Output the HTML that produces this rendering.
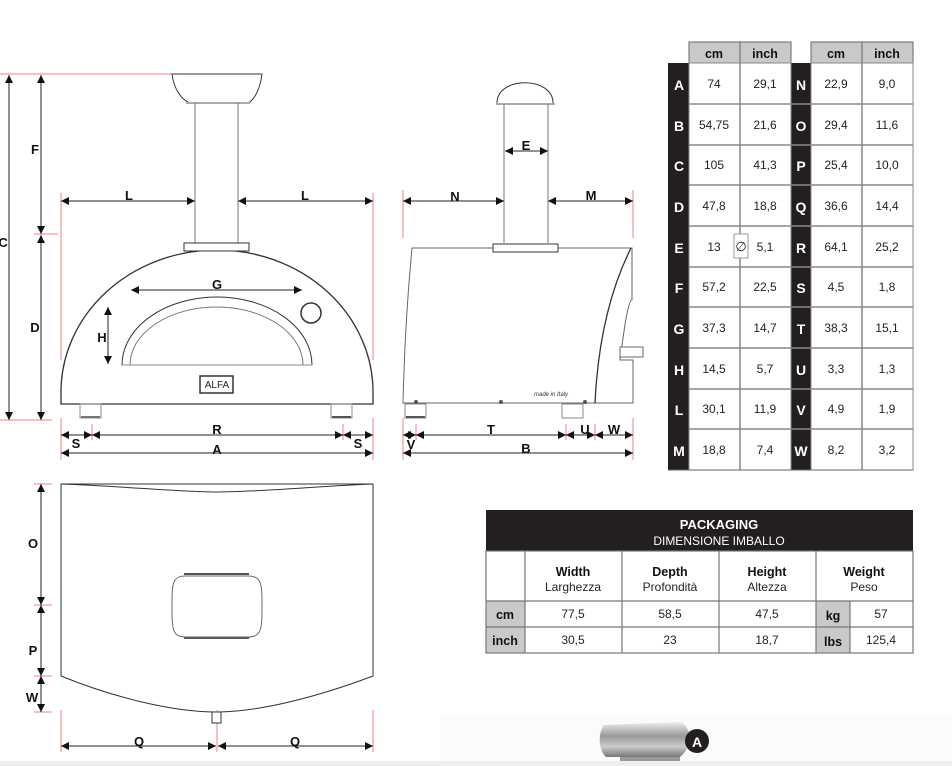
<!DOCTYPE html>
<html><head><meta charset="utf-8"><style>
html,body{margin:0;padding:0;background:#fff;}
svg{display:block;}
text{font-family:"Liberation Sans",sans-serif;}
.lb{font-weight:bold;font-size:13px;fill:#111;text-anchor:middle;}
.tv{font-size:12px;fill:#222;text-anchor:middle;}
.th{font-weight:bold;font-size:12.5px;fill:#111;text-anchor:middle;}
.tl{font-weight:bold;font-size:14px;fill:#fff;text-anchor:middle;}
</style></head><body>
<svg width="952" height="766" viewBox="0 0 952 766" xmlns="http://www.w3.org/2000/svg">
<defs>
<marker id="ar" viewBox="0 0 10 10" refX="10" refY="5" markerWidth="10" markerHeight="8" markerUnits="userSpaceOnUse" orient="auto-start-reverse"><path d="M0,0 L10,5 L0,10 Z" fill="#111"/></marker>
<linearGradient id="mg" x1="0" y1="0" x2="0" y2="1"><stop offset="0" stop-color="#eee"/><stop offset="0.4" stop-color="#999"/><stop offset="0.7" stop-color="#ccc"/><stop offset="1" stop-color="#777"/></linearGradient>
</defs>
<rect x="440" y="715" width="512" height="51" fill="#fbfbfb"/>
<rect x="0" y="761" width="952" height="5" fill="#eee"/>

<!-- FRONT VIEW -->
<g stroke="#f08080" stroke-width="1" fill="none">
<line x1="0" y1="74" x2="172" y2="74"/><line x1="0" y1="420" x2="52" y2="420"/><line x1="34" y1="234" x2="58" y2="234"/>
<line x1="61" y1="193" x2="61" y2="360"/><line x1="373" y1="193" x2="373" y2="360"/>
<line x1="61" y1="418" x2="61" y2="460"/><line x1="373" y1="418" x2="373" y2="460"/>
<line x1="92" y1="424" x2="92" y2="440"/><line x1="343" y1="424" x2="343" y2="440"/>
<line x1="130" y1="285" x2="130" y2="300"/><line x1="303" y1="285" x2="303" y2="300"/>
<line x1="100" y1="306" x2="202" y2="306"/><line x1="100" y1="365" x2="126" y2="365"/>
</g>
<g stroke="#333" fill="none" stroke-width="1">
<path d="M172,74 L262,74 C260,90 254,100 248,103 L190,103 C182,100 174,90 172,74 Z" fill="#fff"/>
<line x1="186" y1="103" x2="250" y2="103" stroke="#aaa" stroke-width="2"/>
<line x1="195" y1="103" x2="195" y2="243" stroke="#777"/><line x1="238" y1="103" x2="238" y2="243" stroke="#777"/>
<rect x="184" y="243" width="65" height="8" fill="#fff"/>
<path d="M61,404 L61,392 A156,142 0 0 1 373,392 L373,404 Z" stroke-width="1.3" fill="#fff"/>
<rect x="184" y="243" width="65" height="8" fill="#fff"/>
<path d="M122,365 A95,68 0 0 1 312,365" stroke-width="1"/>
<path d="M130,365 A86.5,58 0 0 1 303,365" stroke="#777"/>
<line x1="122" y1="365" x2="312" y2="365" stroke="#888"/>
<circle cx="311" cy="313" r="10" stroke-width="1.5"/>
<rect x="200" y="376" width="33" height="17" stroke-width="1.5"/>
<rect x="80" y="404" width="21" height="14" stroke="#888"/><rect x="331" y="404" width="21" height="14" stroke="#888"/>
<line x1="81" y1="417" x2="100" y2="417" stroke="#777" stroke-width="2"/><line x1="332" y1="417" x2="351" y2="417" stroke="#555" stroke-width="2"/>
</g>
<text x="217" y="388" font-family="Liberation Serif,serif" font-size="10" text-anchor="middle" fill="#222">ALFA</text>
<g stroke="#222" stroke-width="1" fill="none" marker-start="url(#ar)" marker-end="url(#ar)">
<line x1="9" y1="75" x2="9" y2="420"/>
<line x1="41" y1="75" x2="41" y2="234"/><line x1="41" y1="235" x2="41" y2="420"/>
<line x1="61" y1="201" x2="195" y2="201"/><line x1="238" y1="201" x2="373" y2="201"/>
<line x1="131" y1="290" x2="302" y2="290"/>
<line x1="108" y1="307" x2="108" y2="364"/>
<line x1="61" y1="435" x2="92" y2="435"/><line x1="92" y1="435" x2="343" y2="435"/><line x1="343" y1="435" x2="373" y2="435"/>
<line x1="61" y1="453" x2="373" y2="453"/>
</g>
<text class="lb" x="3" y="247">C</text>
<text class="lb" x="35" y="154">F</text><text class="lb" x="35" y="332">D</text>
<text class="lb" x="129" y="200">L</text><text class="lb" x="305" y="200">L</text>
<text class="lb" x="217" y="289">G</text><text class="lb" x="102" y="342">H</text>
<text class="lb" x="217" y="434">R</text><text class="lb" x="76" y="448">S</text><text class="lb" x="358" y="448">S</text>
<text class="lb" x="217" y="454">A</text>

<!-- SIDE VIEW -->
<g stroke="#f08080" fill="none">
<line x1="403" y1="190" x2="403" y2="238"/><line x1="633" y1="190" x2="633" y2="238"/>
<line x1="403" y1="418" x2="403" y2="460"/><line x1="633" y1="418" x2="633" y2="460"/>
<line x1="416" y1="424" x2="416" y2="440"/><line x1="566" y1="424" x2="566" y2="440"/><line x1="595" y1="424" x2="595" y2="440"/>
</g>
<g stroke="#333" fill="none" stroke-width="1">
<path d="M497,103 C497,76 553,76 553,103" />
<line x1="496" y1="104" x2="555" y2="104" stroke="#aaa" stroke-width="2"/>
<line x1="504" y1="104" x2="504" y2="243" stroke="#777"/><line x1="548" y1="104" x2="548" y2="243" stroke="#777"/>
<path d="M412,248 L631,248 M412,248 C407,300 404,360 403,403 L633,403 L633,360 L620,360 C624,330 628,300 632,300 L632,248 Z" stroke="#666"/>
<path d="M631,248 C610,290 598,340 595,403" stroke-width="1.3"/>
<rect x="493" y="244" width="65" height="8" fill="#fff"/>
<rect x="620" y="347" width="23" height="10" fill="#fff" stroke="#666"/>
<rect x="405" y="404" width="21" height="14" stroke="#888"/><rect x="562" y="404" width="21" height="14" stroke="#888"/>
<line x1="406" y1="417" x2="425" y2="417" stroke="#555" stroke-width="2"/>
</g>
<g fill="#555"><circle cx="416" cy="402" r="2"/><circle cx="501" cy="402" r="2"/><circle cx="585" cy="402" r="2"/></g>
<text x="551" y="396" font-size="6" font-style="italic" fill="#333" text-anchor="middle" font-family="Liberation Serif,serif">made in Italy</text>
<g stroke="#222" stroke-width="1" fill="none" marker-start="url(#ar)" marker-end="url(#ar)">
<line x1="505" y1="151" x2="548" y2="151"/>
<line x1="403" y1="201" x2="504" y2="201"/><line x1="548" y1="201" x2="633" y2="201"/>
<line x1="403" y1="435" x2="416" y2="435"/><line x1="416" y1="435" x2="566" y2="435"/><line x1="566" y1="435" x2="595" y2="435"/><line x1="595" y1="435" x2="633" y2="435"/>
<line x1="403" y1="453" x2="633" y2="453"/>
</g>
<text class="lb" x="526" y="150">E</text><text class="lb" x="455" y="201">N</text><text class="lb" x="591" y="200">M</text>
<text class="lb" x="411" y="449">V</text><text class="lb" x="491" y="434">T</text><text class="lb" x="585" y="434">U</text><text class="lb" x="614" y="434">W</text>
<text class="lb" x="526" y="453">B</text>

<!-- TOP VIEW -->
<g stroke="#f08080" fill="none">
<line x1="34" y1="484" x2="52" y2="484"/><line x1="34" y1="605" x2="52" y2="605"/><line x1="34" y1="676" x2="52" y2="676"/><line x1="34" y1="712" x2="52" y2="712"/>
<line x1="61" y1="710" x2="61" y2="752"/><line x1="373" y1="710" x2="373" y2="752"/><line x1="217" y1="710" x2="217" y2="752"/>
</g>
<g stroke="#333" fill="none" stroke-width="1">
<path d="M61,484 L373,484 M61,484 C120,486 180,492 217,492 C260,492 320,486 373,484 L373,676 C320,696 260,712 217,712 C170,712 110,696 61,676 Z"/>
<path d="M184,574 L249,574 M184,638 L249,638" stroke-width="2" stroke="#555"/>
<path d="M185,576 C172,576 172,585 172,606 C172,628 172,637 185,637 L248,637 C262,637 262,628 262,606 C262,585 262,576 248,576 Z" stroke="#666"/>
<rect x="212" y="712" width="9" height="11" fill="#fff"/>
</g>
<g stroke="#222" stroke-width="1" fill="none" marker-start="url(#ar)" marker-end="url(#ar)">
<line x1="41" y1="484" x2="41" y2="605"/><line x1="41" y1="605" x2="41" y2="676"/><line x1="41" y1="676" x2="41" y2="712"/>
<line x1="61" y1="746" x2="216" y2="746"/><line x1="218" y1="746" x2="373" y2="746"/>
</g>
<text class="lb" x="33" y="548">O</text><text class="lb" x="33" y="655">P</text><text class="lb" x="32" y="702">W</text>
<text class="lb" x="139" y="746">Q</text><text class="lb" x="295" y="746">Q</text>

<!-- DIM TABLE -->
<g>
<rect x="689" y="42" width="102" height="21" fill="#c9c9c9" stroke="#666"/>
<rect x="811" y="42" width="102" height="21" fill="#c9c9c9" stroke="#666"/>
<line x1="740" y1="42" x2="740" y2="63" stroke="#666"/><line x1="862" y1="42" x2="862" y2="63" stroke="#666"/>
<text class="th" x="714" y="58">cm</text><text class="th" x="765" y="58">inch</text>
<text class="th" x="836" y="58">cm</text><text class="th" x="887" y="58">inch</text>
<rect x="668" y="63" width="21" height="407" fill="#231f20"/>
<rect x="791" y="63" width="20" height="407" fill="#231f20"/>
<rect x="689" y="63" width="102" height="407" fill="#fff" stroke="#888"/>
<rect x="811" y="63" width="102" height="407" fill="#fff" stroke="#888"/>
<g stroke="#888" stroke-width="1.5">
<line x1="740" y1="63" x2="740" y2="470"/><line x1="862" y1="63" x2="862" y2="470"/>
<line x1="689" y1="104" x2="913" y2="104"/><line x1="689" y1="145" x2="913" y2="145"/><line x1="689" y1="185" x2="913" y2="185"/>
<line x1="689" y1="226" x2="913" y2="226"/><line x1="689" y1="267" x2="913" y2="267"/><line x1="689" y1="307" x2="913" y2="307"/>
<line x1="689" y1="348" x2="913" y2="348"/><line x1="689" y1="389" x2="913" y2="389"/><line x1="689" y1="429" x2="913" y2="429"/>
</g>
<line x1="668" y1="470" x2="913" y2="470" stroke="#666"/>
<rect x="734" y="234" width="14" height="24" fill="#fff" stroke="#999"/>
<text x="741" y="251" font-size="13" text-anchor="middle" fill="#222">∅</text>
<g class="tl">
<text class="tl" x="679" y="90">A</text><text class="tl" x="679" y="131">B</text><text class="tl" x="679" y="171">C</text><text class="tl" x="679" y="212">D</text><text class="tl" x="679" y="253">E</text><text class="tl" x="679" y="293">F</text><text class="tl" x="679" y="334">G</text><text class="tl" x="679" y="375">H</text><text class="tl" x="679" y="415">L</text><text class="tl" x="679" y="456">M</text>
<text class="tl" x="801" y="90">N</text><text class="tl" x="801" y="131">O</text><text class="tl" x="801" y="171">P</text><text class="tl" x="801" y="212">Q</text><text class="tl" x="801" y="253">R</text><text class="tl" x="801" y="293">S</text><text class="tl" x="801" y="334">T</text><text class="tl" x="801" y="375">U</text><text class="tl" x="801" y="415">V</text><text class="tl" x="801" y="456">W</text>
</g>
<text class="tv" x="714" y="88">74</text><text class="tv" x="765" y="88">29,1</text><text class="tv" x="836" y="88">22,9</text><text class="tv" x="887" y="88">9,0</text>
<text class="tv" x="714" y="129">54,75</text><text class="tv" x="765" y="129">21,6</text><text class="tv" x="836" y="129">29,4</text><text class="tv" x="887" y="129">11,6</text>
<text class="tv" x="714" y="169">105</text><text class="tv" x="765" y="169">41,3</text><text class="tv" x="836" y="169">25,4</text><text class="tv" x="887" y="169">10,0</text>
<text class="tv" x="714" y="210">47,8</text><text class="tv" x="765" y="210">18,8</text><text class="tv" x="836" y="210">36,6</text><text class="tv" x="887" y="210">14,4</text>
<text class="tv" x="714" y="251">13</text><text class="tv" x="765" y="251">5,1</text><text class="tv" x="836" y="251">64,1</text><text class="tv" x="887" y="251">25,2</text>
<text class="tv" x="714" y="291">57,2</text><text class="tv" x="765" y="291">22,5</text><text class="tv" x="836" y="291">4,5</text><text class="tv" x="887" y="291">1,8</text>
<text class="tv" x="714" y="332">37,3</text><text class="tv" x="765" y="332">14,7</text><text class="tv" x="836" y="332">38,3</text><text class="tv" x="887" y="332">15,1</text>
<text class="tv" x="714" y="373">14,5</text><text class="tv" x="765" y="373">5,7</text><text class="tv" x="836" y="373">3,3</text><text class="tv" x="887" y="373">1,3</text>
<text class="tv" x="714" y="413">30,1</text><text class="tv" x="765" y="413">11,9</text><text class="tv" x="836" y="413">4,9</text><text class="tv" x="887" y="413">1,9</text>
<text class="tv" x="714" y="454">18,8</text><text class="tv" x="765" y="454">7,4</text><text class="tv" x="836" y="454">8,2</text><text class="tv" x="887" y="454">3,2</text>
</g>

<!-- PACKAGING TABLE -->
<g>
<rect x="486" y="510" width="427" height="41" fill="#231f20"/>
<text x="719" y="529" font-size="13" font-weight="bold" fill="#fff" text-anchor="middle">PACKAGING</text>
<text x="719" y="545" font-size="12" fill="#fff" text-anchor="middle">DIMENSIONE IMBALLO</text>
<rect x="486" y="551" width="427" height="102" fill="#fff" stroke="#777"/>
<rect x="486" y="601" width="39" height="52" fill="#c9c9c9"/>
<rect x="816" y="601" width="34" height="52" fill="#c9c9c9"/>
<g stroke="#777" stroke-width="1.2">
<line x1="525" y1="551" x2="525" y2="653"/><line x1="622" y1="551" x2="622" y2="653"/><line x1="719" y1="551" x2="719" y2="653"/><line x1="816" y1="551" x2="816" y2="653"/><line x1="850" y1="601" x2="850" y2="653"/>
<line x1="486" y1="601" x2="913" y2="601"/><line x1="486" y1="627" x2="913" y2="627"/>
<rect x="486" y="551" width="427" height="102" fill="none"/>
</g>
<text class="th" x="573" y="576" font-size="14">Width</text><text class="tv" x="573" y="591">Larghezza</text>
<text class="th" x="670" y="576" font-size="14">Depth</text><text class="tv" x="670" y="591">Profondità</text>
<text class="th" x="767" y="576" font-size="14">Height</text><text class="tv" x="767" y="591">Altezza</text>
<text class="th" x="864" y="576" font-size="14">Weight</text><text class="tv" x="864" y="591">Peso</text>
<text class="th" x="505" y="619">cm</text><text class="th" x="505" y="645">inch</text>
<text class="th" x="833" y="620">kg</text><text class="th" x="833" y="646">lbs</text>
<text class="tv" x="573" y="618">77,5</text><text class="tv" x="670" y="618">58,5</text><text class="tv" x="767" y="618">47,5</text><text class="tv" x="881" y="618">57</text>
<text class="tv" x="573" y="644">30,5</text><text class="tv" x="670" y="644">23</text><text class="tv" x="767" y="644">18,7</text><text class="tv" x="881" y="644">125,4</text>
</g>

<!-- bottom chimney cap image -->
<path d="M604,725 L680,722 C690,725 695,745 680,757 L606,757 C598,750 598,732 604,725 Z" fill="url(#mg)"/>
<rect x="620" y="757" width="60" height="4" fill="#999"/>
<circle cx="697" cy="741" r="12" fill="#231f20"/>
<text x="697" y="747" font-size="14" font-weight="bold" fill="#fff" text-anchor="middle">A</text>
</svg>
</body></html>
